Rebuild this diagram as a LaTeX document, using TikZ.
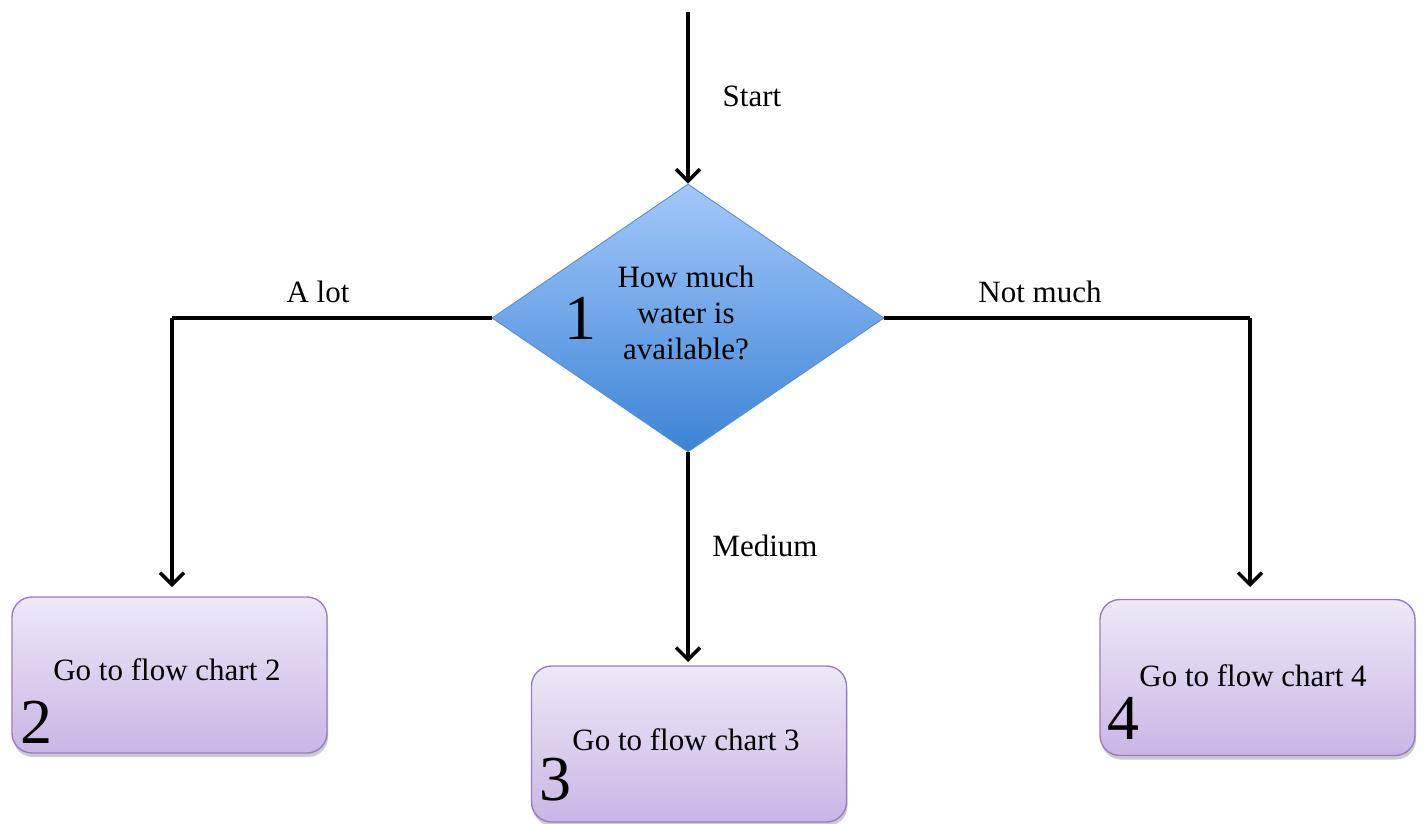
\documentclass[tikz,border=0pt]{standalone}
\usepackage{fontspec}
\setmainfont{Liberation Serif}
\usetikzlibrary{arrows.meta,shapes.geometric,shadows}
\begin{document}
\begin{tikzpicture}[x=1pt,y=-1pt,
  flow/.style={line width=3.5pt, -{Straight Barb[length=12pt,width=24pt,line width=3.5pt]}},
  seg/.style={line width=3.5pt},
  question/.style={diamond, draw=qedge, line width=0.9pt, top color=qtop, bottom color=qbot,
    minimum width=392pt, minimum height=268pt, inner sep=0pt},
  goto/.style={rounded corners=20pt, draw=bedge, line width=1.4pt, top color=btop, bottom color=bbot,
    minimum width=315pt, minimum height=156pt, inner sep=0pt,
    drop shadow={shadow xshift=1pt, shadow yshift=-4pt, fill=black!45, opacity=0.45}},
  lbl/.style={font=\fontsize{31}{36}\selectfont, inner sep=0pt},
  num/.style={font=\fontsize{64}{66}\selectfont, inner sep=0pt}
]
\definecolor{qtop}{HTML}{A3C8FA}
\definecolor{qbot}{HTML}{3C84D6}
\definecolor{qedge}{HTML}{5A8ED2}
\definecolor{btop}{HTML}{EEE8F8}
\definecolor{bbot}{HTML}{C9B6E5}
\definecolor{bedge}{HTML}{9A7CC6}

\useasboundingbox (0,0) rectangle (1426,824);

% decision
\node[question] (q) at (688,318) {};
\node[lbl, align=center] (qt) at (686,313) {How much\\water is\\available?};
\node[num] (n1) at (580,318) {1};

% targets
\node[goto] (b2) at (169.5,675) {};
\node[goto] (b3) at (689,744) {};
\node[goto] (b4) at (1257.5,677.5) {};

\node[lbl] (t2) at (167,670) {Go to flow chart 2};
\node[lbl] (t3) at (686,740) {Go to flow chart 3};
\node[lbl] (t4) at (1253,676) {Go to flow chart 4};
\node[num] (n2) at (36,722) {2};
\node[num] (n3) at (555,780) {3};
\node[num] (n4) at (1123,718) {4};

% connectors
\coordinate (in) at (688,12);
\coordinate (k2) at (172,318);
\coordinate (k4) at (1250,318);
\coordinate (e2) at (172,587);
\coordinate (e4) at (1250,587);
\coordinate (e3) at (688,662);

\draw[flow] (in) -- (q.north);
\draw[seg] (q.west) -- (k2);
\draw[flow] (k2) -- (e2);
\draw[seg] (q.east) -- (k4);
\draw[flow] (k4) -- (e4);
\draw[flow] (q.south) -- (e3);

% branch labels
\node[lbl] (ls) at (752,96) {Start};
\node[lbl] (la) at (318,292) {A lot};
\node[lbl] (ln) at (1040,292) {Not much};
\node[lbl] (lm) at (765,546) {Medium};
\end{tikzpicture}
\end{document}
